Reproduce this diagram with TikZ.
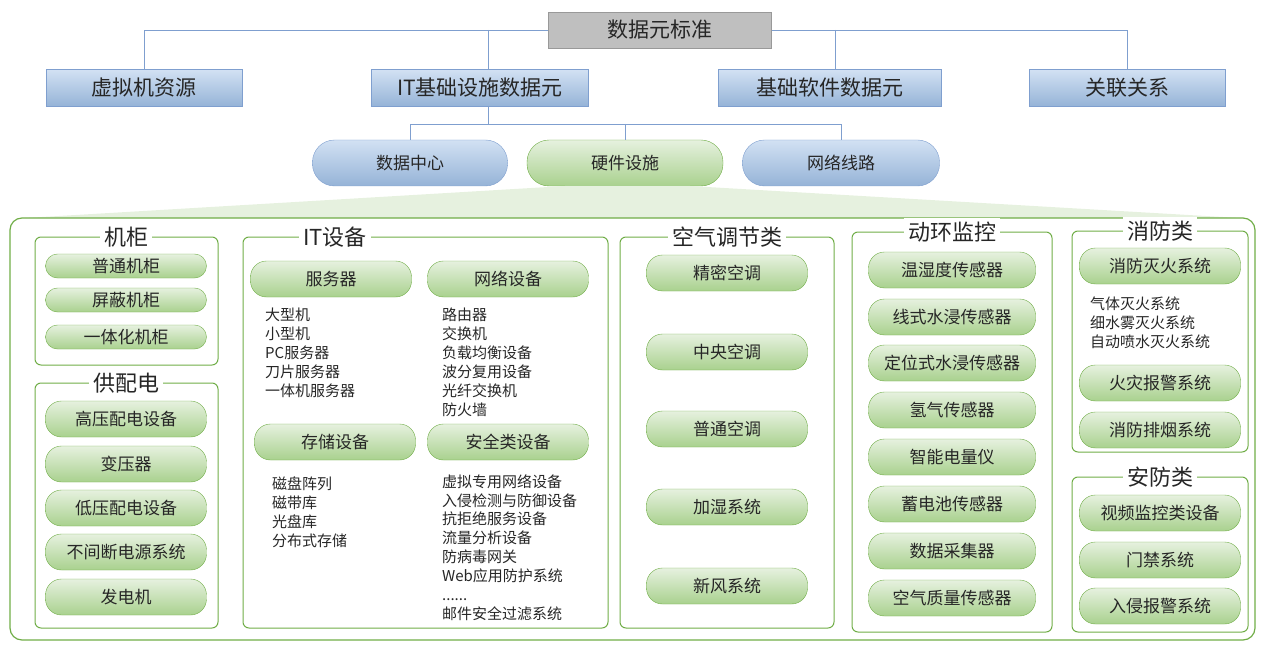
\documentclass[tikz,border=0pt]{standalone}
\usepackage{fontspec}
\setmainfont{Noto Sans CJK SC}
\usepackage{tikz}

\definecolor{gline}{HTML}{70AD47}
\definecolor{gtop}{HTML}{E6F1DF}
\definecolor{gbot}{HTML}{A9D18E}
\definecolor{btop}{HTML}{D2E1F3}
\definecolor{bbot}{HTML}{95B3D7}
\definecolor{bline}{HTML}{7F9FCF}
\definecolor{txt}{HTML}{262626}

\tikzset{
  bluebox/.style={draw=bline,top color=btop,bottom color=bbot,minimum width=196pt,minimum height=37pt,
                  font=\fontsize{21}{24}\selectfont,text=txt},
  bluepill/.style={draw=bline,top color=btop,bottom color=bbot,rounded corners=22pt,minimum width=195pt,
                  minimum height=46pt,font=\fontsize{17}{20}\selectfont,text=txt},
  greenpill/.style={draw=gline,top color=gtop,bottom color=gbot,rounded corners=12pt,
                  font=\fontsize{17}{20}\selectfont,text=txt,inner sep=0pt},
  group/.style={draw=gline,line width=1pt,rounded corners=6pt},
  grouptitle/.style={fill=white,inner sep=4pt,font=\fontsize{22}{24}\selectfont,text=txt},
  itemlist/.style={anchor=north west,align=left,font=\fontsize{15}{19}\selectfont,text=txt,inner sep=0pt},
  tree/.style={draw=bline,line width=0.8pt},
}

\begin{document}
\begin{tikzpicture}[x=1pt,y=-1pt]
\useasboundingbox (0,0) rectangle (1267,650);

% top level
\node[draw=gray!80,fill=gray!50,minimum width=223pt,minimum height=36pt,
      font=\fontsize{21}{24}\selectfont,text=txt] (std) at (660,30) {数据元标准};
\node[bluebox] (vm) at (144,88) {虚拟机资源};
\node[bluebox,minimum width=217pt] (it) at (480,88) {IT基础设施数据元};
\node[bluebox,minimum width=223pt] (sw) at (830,88) {基础软件数据元};
\node[bluebox] (rel) at (1127,88) {关联关系};
\draw[tree] (std.west) -| (vm.north);
\draw[tree] (std.east) -| (rel.north);
\draw[tree] (488,30) -- (488,70);
\draw[tree] (835,30) -- (835,70);

% second level
\node[bluepill] (dc) at (410,163) {数据中心};
\node[greenpill,minimum width=196pt,minimum height=46pt,rounded corners=22pt] (hw) at (625,163) {硬件设施};
\node[bluepill,minimum width=197pt] (net) at (841,163) {网络线路};
\coordinate (itb) at (488,107);
\draw[tree] (itb) -- (488,124);
\draw[tree] (dc.north) |- (net.north |- 0,124) -- (net.north);
\draw[tree] (625,124) -- (hw.north);

% expansion
\fill[gtop] (565,186) -- (690,186) -- (1240,218) -- (25,218) -- cycle;
\draw[group,rounded corners=12pt,line width=1.2pt] (10,218) rectangle (1255,640);

% 机柜
\draw[group] (35,237) rectangle (218,365);
\node[grouptitle] at (126,237) {机柜};
\foreach \t/\y in {普通机柜/266,屏蔽机柜/300,一体化机柜/337}
  \node[greenpill,minimum width=161pt,minimum height=24pt] at (126,\y) {\t};

% 供配电
\draw[group] (35,383) rectangle (218,628);
\node[grouptitle] at (126,383) {供配电};
\foreach \t/\y in {高压配电设备/419,变压器/464,低压配电设备/508,不间断电源系统/552,发电机/597}
  \node[greenpill,minimum width=161pt,minimum height=36pt,rounded corners=16pt] at (126,\y) {\t};

% IT设备
\draw[group] (243,237) rectangle (608,628);
\node[grouptitle] at (335,237) {IT设备};
\foreach \t/\x/\y in {服务器/331/279,网络设备/508/279,存储设备/335/442,安全类设备/508/442}
  \node[greenpill,minimum width=161pt,minimum height=36pt,rounded corners=16pt] at (\x,\y) {\t};
\node[itemlist] at (265,308) {大型机\\小型机\\PC服务器\\刀片服务器\\一体机服务器};
\node[itemlist] at (442,308) {路由器\\交换机\\负载均衡设备\\波分复用设备\\光纤交换机\\防火墙};
\node[itemlist] at (272,477) {磁盘阵列\\磁带库\\光盘库\\分布式存储};
\node[itemlist] at (442,474) {虚拟专用网络设备\\入侵检测与防御设备\\抗拒绝服务设备\\流量分析设备\\防病毒网关\\Web应用防护系统\\......\\邮件安全过滤系统};

% 空气调节类
\draw[group] (620,237) rectangle (834,628);
\node[grouptitle] at (727,237) {空气调节类};
\foreach \t/\y in {精密空调/273,中央空调/352,普通空调/429,加湿系统/507,新风系统/586}
  \node[greenpill,minimum width=161pt,minimum height=36pt,rounded corners=16pt] at (727,\y) {\t};

% 动环监控
\draw[group] (852,232) rectangle (1052,632);
\node[grouptitle] at (952,232) {动环监控};
\foreach \t/\y in {温湿度传感器/270,线式水浸传感器/317,定位式水浸传感器/363,氢气传感器/410,
                   智能电量仪/457,蓄电池传感器/504,数据采集器/551,空气质量传感器/598}
  \node[greenpill,minimum width=167pt,minimum height=36pt,rounded corners=16pt] at (952,\y) {\t};

% 消防类
\draw[group] (1072,231) rectangle (1248,452);
\node[grouptitle] at (1160,231) {消防类};
\foreach \t/\y in {消防灭火系统/266,火灾报警系统/383,消防排烟系统/430}
  \node[greenpill,minimum width=161pt,minimum height=36pt,rounded corners=16pt] at (1160,\y) {\t};
\node[itemlist] at (1090,297) {气体灭火系统\\细水雾灭火系统\\自动喷水灭火系统};

% 安防类
\draw[group] (1072,477) rectangle (1248,632);
\node[grouptitle] at (1160,477) {安防类};
\foreach \t/\y in {视频监控类设备/513,门禁系统/560,入侵报警系统/606}
  \node[greenpill,minimum width=161pt,minimum height=36pt,rounded corners=16pt] at (1160,\y) {\t};
\end{tikzpicture}
\end{document}
